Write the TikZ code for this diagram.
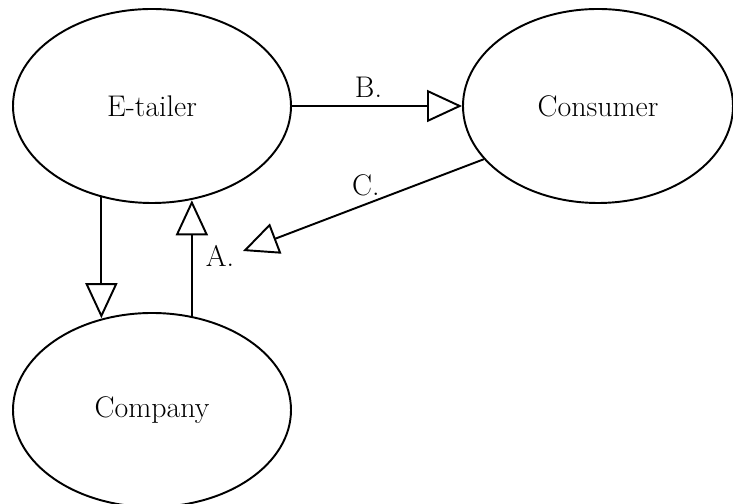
\documentclass[tikz,border=0pt]{standalone}
\usepackage{tikz}
\usetikzlibrary{positioning, arrows.meta, shapes.geometric}

\begin{document}
\begin{tikzpicture}[
    actor/.style={ellipse, draw, line width=1.1pt, minimum width=5.56cm, minimum height=3.88cm, inner sep=0pt, font=\fontsize{17}{20}\selectfont},
    flow/.style={line width=1.1pt, -{Triangle[open, length=0.7cm, width=0.64cm, line width=1.1pt]}},
    tag/.style={font=\fontsize{17}{20}\selectfont},
]

\useasboundingbox (0,0) rectangle (14.66,10.08);

\node[actor] (etailer) at (3.04, 7.96) {E-tailer};
\node[actor, minimum width=5.4cm] (consumer) at (11.96, 7.96) {Consumer};
\node[actor] (company) at (3.04, 1.88) {Company};

\coordinate (ctip) at (4.86, 5.06);

\draw[flow] (etailer.east) -- (consumer.west) node[pos=0.45, above=1pt, tag] {B.};
\draw[flow] (consumer.205.5) -- (ctip) node[pos=0.49, above=1pt, tag] {C.};
\node[tag] (alabel) at (4.4, 4.96) {A.};

\draw[flow] (etailer.241.6) -- (etailer.241.6 |- company.118.4);
\draw[flow] (company.67.3) -- (company.67.3 |- etailer.292.7);

\end{tikzpicture}
\end{document}
